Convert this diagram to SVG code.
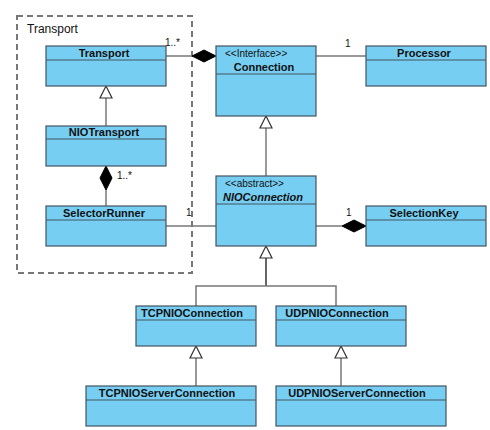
<svg xmlns="http://www.w3.org/2000/svg" width="490" height="430" viewBox="0 0 490 430">
<style>
.box{fill:#77cef3;stroke:#44545f;stroke-width:1.2}
.div{stroke:#44545f;stroke-width:1.2}
.name{font-family:"Liberation Sans",Arial,sans-serif;font-size:11px;font-weight:bold;fill:#111;text-anchor:middle}
.it{font-style:italic}
.st{font-family:"Liberation Sans",Arial,sans-serif;font-size:10px;fill:#111}
.lbl{font-family:"Liberation Sans",Arial,sans-serif;font-size:10px;fill:#111}
.ln{stroke:#777;stroke-width:1.5;fill:none}
.dk{stroke:#333;stroke-width:1.5;fill:none}
.tri{fill:#fff;stroke:#333;stroke-width:1.2}
.dia{fill:#000;stroke:#000;stroke-width:1}
</style>
<rect width="490" height="430" fill="#fff"/>
<g id="package">
<rect x="17" y="16" width="175" height="257" fill="none" stroke="#777" stroke-width="2" stroke-dasharray="6,4"/>
<text x="27" y="33" font-family="'Liberation Sans',Arial,sans-serif" font-size="12" fill="#111">Transport</text>
</g>
<g id="connectors">
<line class="ln" x1="166" y1="56" x2="192" y2="56"/>
<polygon class="dia" points="192,56 204,50 216,56 204,62"/>
<text class="lbl" x="165" y="46">1..*</text>
<line class="ln" x1="316" y1="56" x2="366" y2="56"/>
<text class="lbl" x="345" y="47">1</text>
<line class="ln" x1="106" y1="98" x2="106" y2="126"/>
<polygon class="tri" points="106,86 112,98 100,98"/>
<line class="ln" x1="106" y1="190" x2="106" y2="206"/>
<polygon class="dia" points="106,166 112,178 106,190 100,178"/>
<text class="lbl" x="117" y="179">1..*</text>
<line class="ln" x1="266" y1="128" x2="266" y2="176"/>
<polygon class="tri" points="266,116 272,128 260,128"/>
<line class="ln" x1="166" y1="226" x2="216" y2="226"/>
<text class="lbl" x="186" y="216">1</text>
<line class="ln" x1="316" y1="226" x2="342" y2="226"/>
<polygon class="dia" points="342,226 354,220 366,226 354,232"/>
<text class="lbl" x="346" y="216">1</text>
<line class="dk" x1="266" y1="258" x2="266" y2="286"/>
<polygon class="tri" points="266,246 272,258 260,258"/>
<polyline class="ln" points="196,306 196,286 336,286 336,306"/>
<line class="ln" x1="196" y1="358" x2="196" y2="386"/>
<polygon class="tri" points="196,346 202,358 190,358"/>
<line class="ln" x1="341" y1="358" x2="341" y2="386"/>
<polygon class="tri" points="341,346 347,358 335,358"/>
</g>
<g id="Transport">
<rect class="box" x="46" y="46" width="120" height="40"/>
<line class="div" x1="46" y1="60" x2="166" y2="60"/>
<text class="name" x="104" y="57">Transport</text>
</g>
<g id="NIOTransport">
<rect class="box" x="46" y="126" width="120" height="40"/>
<line class="div" x1="46" y1="139" x2="166" y2="139"/>
<text class="name" x="104" y="136">NIOTransport</text>
</g>
<g id="SelectorRunner">
<rect class="box" x="46" y="206" width="120" height="40"/>
<line class="div" x1="46" y1="220" x2="166" y2="220"/>
<text class="name" x="104" y="217">SelectorRunner</text>
</g>
<g id="Connection">
<rect class="box" x="216" y="46" width="100" height="70"/>
<line class="div" x1="216" y1="74" x2="316" y2="74"/>
<text class="st" x="225" y="57">&lt;&lt;Interface&gt;&gt;</text>
<text class="name" x="264" y="71">Connection</text>
</g>
<g id="Processor">
<rect class="box" x="366" y="46" width="120" height="40"/>
<line class="div" x1="366" y1="60" x2="486" y2="60"/>
<text class="name" x="424" y="57">Processor</text>
</g>
<g id="NIOConnection">
<rect class="box" x="216" y="176" width="100" height="70"/>
<line class="div" x1="216" y1="204" x2="316" y2="204"/>
<text class="st" x="225" y="187">&lt;&lt;abstract&gt;&gt;</text>
<text class="name it" x="263" y="201">NIOConnection</text>
</g>
<g id="SelectionKey">
<rect class="box" x="366" y="206" width="120" height="40"/>
<line class="div" x1="366" y1="220" x2="486" y2="220"/>
<text class="name" x="424" y="217">SelectionKey</text>
</g>
<g id="TCPNIOConnection">
<rect class="box" x="136" y="306" width="120" height="40"/>
<line class="div" x1="136" y1="320" x2="256" y2="320"/>
<text class="name" x="192" y="317">TCPNIOConnection</text>
</g>
<g id="UDPNIOConnection">
<rect class="box" x="276" y="306" width="130" height="40"/>
<line class="div" x1="276" y1="320" x2="406" y2="320"/>
<text class="name" x="337" y="317">UDPNIOConnection</text>
</g>
<g id="TCPNIOServerConnection">
<rect class="box" x="86" y="386" width="170" height="40"/>
<line class="div" x1="86" y1="400" x2="256" y2="400"/>
<text class="name" x="167" y="397">TCPNIOServerConnection</text>
</g>
<g id="UDPNIOServerConnection">
<rect class="box" x="276" y="386" width="170" height="40"/>
<line class="div" x1="276" y1="400" x2="446" y2="400"/>
<text class="name" x="357" y="397">UDPNIOServerConnection</text>
</g>
</svg>
